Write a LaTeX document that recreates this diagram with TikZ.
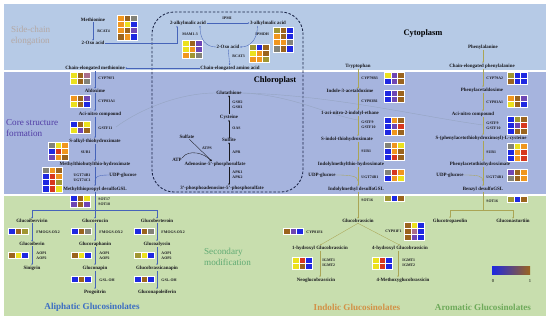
\documentclass[tikz,border=0pt]{standalone}
\usepackage{fontspec}
\setmainfont{Liberation Serif}
\usepackage{tikz}
\usetikzlibrary{arrows.meta,calc}
\definecolor{ink}{RGB}{25,25,30}
\definecolor{cytobg}{RGB}{182,202,230}
\definecolor{corebg}{RGB}{166,180,222}
\definecolor{greenbg}{RGB}{200,222,174}
\definecolor{chlline}{RGB}{25,35,70}
\definecolor{aliline}{RGB}{70,100,185}
\definecolor{indline}{RGB}{170,165,85}
\definecolor{gluline}{RGB}{150,165,195}
\definecolor{hb}{RGB}{30,40,225}
\definecolor{hp}{RGB}{110,70,180}
\definecolor{hy}{RGB}{235,225,30}
\definecolor{ho}{RGB}{240,150,30}
\definecolor{hr}{RGB}{215,55,30}
\definecolor{hn}{RGB}{155,100,30}
\definecolor{hk}{RGB}{160,150,50}
\definecolor{hg}{RGB}{130,130,120}
\definecolor{hm}{RGB}{170,110,140}
\definecolor{sidec}{RGB}{180,168,164}
\definecolor{corec}{RGB}{80,60,165}
\definecolor{secc}{RGB}{95,170,115}
\definecolor{alic}{RGB}{60,110,195}
\definecolor{indc}{RGB}{210,145,70}
\definecolor{aroc}{RGB}{110,170,90}
\newcommand{\hmap}[3]{%
  \foreach \hrow [count=\hj from 0] in {#3}{%
    \foreach \hcol [count=\hi from 0] in \hrow{%
      \fill[\hcol,draw=white,line width=0.3pt] (#1+\hi*6.7,#2+\hj*6.2) rectangle ++(6.7,6.2);}}}

\begin{document}
\begin{tikzpicture}[x=0.05cm,y=-0.05cm,
  cpd/.style={font=\fontsize{7}{8}\selectfont\bfseries,text=ink,inner sep=0.6pt},
  enz/.style={font=\fontsize{5.5}{6.5}\selectfont\bfseries,text=ink,inner sep=0.5pt,align=left},
  big/.style={font=\fontsize{13}{16}\selectfont,align=left,inner sep=0pt},
  grp/.style={font=\fontsize{13}{15}\selectfont\bfseries,inner sep=0pt},
  ali/.style={-{Stealth[length=2.4pt,width=2pt]},draw=aliline,line width=0.5pt},
  alip/.style={draw=aliline,line width=0.5pt},
  ind/.style={-{Stealth[length=2.4pt,width=2pt]},draw=indline,line width=0.5pt},
  indp/.style={draw=indline,line width=0.5pt},
  sul/.style={-{Stealth[length=2.6pt,width=2.2pt]},draw=ink,line width=0.5pt},
  glu/.style={draw=gluline,line width=0.6pt},
  chl/.style={draw=chlline,line width=1.2pt,dash pattern=on 3.5pt off 2.5pt,rounded corners=1.1cm}
]
\fill[white] (0,0) rectangle (550,322);
\fill[cytobg] (4,4) rectangle (546,70);
\fill[corebg] (4,72) rectangle (546,194);
\fill[greenbg] (4,196) rectangle (546,316);
\draw[chl] (152,12) rectangle (303,192);

\node[big,text=sidec,anchor=west] (side) at (11,36) {Side-chain\\elongation};
\node[big,text=corec,anchor=west] (core) at (6,128) {Core structure\\formation};
\node[big,text=secc,anchor=west] (secm) at (204,257) {Secondary\\modification};
\node[grp,font=\fontsize{12}{14}\selectfont\bfseries] (cyto) at (423,33) {Cytoplasm};
\node[grp,font=\fontsize{12}{14}\selectfont\bfseries] (chlo) at (275,80) {Chloroplast};

\node[cpd] (met) at (93,20) {Methionine};
\node[cpd] (oxoa) at (93,43) {2-Oxo acid};
\node[enz,anchor=west] (bcatf) at (97,31) {BCAT4};
\hmap{117}{15}{{ho,hn,hg},{ho,hy,hb},{ho,hn,hp},{hn,ho,hb}}
\node[cpd] (alkb) at (188,23) {2-alkylmalic acid};
\node[cpd] (alkc) at (268,23) {3-alkylmalic acid};
\node[enz] (ipmi) at (227,18) {IPMI};
\node[enz,anchor=west] (mam) at (182,34) {MAM1-3};
\hmap{182}{40}{{hy,hn,hp},{hy,ho,hp},{ho,hk,hg}}
\node[enz,anchor=west] (ipmdh) at (255,34) {IPMDH};
\hmap{273}{27}{{hk,hn,hb},{ho,hn,hb},{ho,ho,hg},{hg,hn,hb}}
\node[cpd] (oxob) at (228,47) {2-Oxo acid};
\node[enz,anchor=west] (bcatt) at (232,56) {BCAT3};
\hmap{249}{44}{{hk,hb,hn},{hy,ho,hn},{ho,ho,hk}}
\node[cpd] (ceaa) at (230,68) {Chain-elongated amino acid};
\node[cpd] (cemet) at (95,68) {Chain-elongated methionine};

\draw[ali] (met) -- (oxoa);
\draw[ali] (oxoa.east) -| ($(alkb.south)+(-11,0)$);
\draw[ali] (alkb) -- (alkc);
\draw[ali] ($(alkc.south west)+(8,0)$) .. controls +(0,14) and +(10,0) .. (oxob.east);
\draw[ali] (oxob.west) .. controls +(-10,0) and +(0,14) .. ($(alkb.south)+(12,0)$);
\draw[ali] (oxob) -- (ceaa);
\draw[ali] (ceaa) -- (cemet);

\coordinate (cA) at (95,0);
\node[cpd] (ald) at (95,91) {Aldoxime};
\node[cpd] (acia) at (100,114) {Aci-nitro compound};
\node[cpd] (salk) at (95,141) {S-alkyl-thiohydroximate};
\node[cpd] (mtbt) at (95,164) {Methylthiobutylthio-hydroximate};
\node[cpd] (mtds) at (95,189) {Methylthiopropyl desulfoGSL};
\node[cpd] (udpa) at (123,175) {UDP-glucose};
\node[enz,anchor=west] (cypfa) at (98,78) {CYP79F1};
\hmap{70}{72}{{hy,hn,hm},{hy,hn,hg}}
\node[enz,anchor=west] (cypaa) at (98,101) {CYP83A1};
\hmap{70}{95}{{ho,hn,hp},{hy,hn,hb}}
\node[enz,anchor=west] (gsta) at (98,128) {GSTF11};
\hmap{70}{121}{{hb,hn,hy},{hy,hp,hn}}
\node[enz,anchor=east] (sura) at (91,152) {SUR1};
\hmap{48}{142}{{hg,hy,ho},{hb,hr,ho},{hp,ho,hn}}
\node[enz,anchor=east] (ugta) at (91,178) {UGT74B1\\UGT74C1};
\hmap{42}{167}{{hg,ho,hn},{hb,hr,ho},{hb,hr,hk},{hb,hr,hy}}
\node[enz,anchor=west] (sota) at (98,202) {SOT17\\SOT18};
\hmap{70}{195}{{hb,hn,hy},{hp,hn,hp}}

\draw[ali] (cemet.south -| cA) -- (ald.north -| cA);
\draw[ali] (ald.south -| cA) -- (acia.north -| cA);
\draw[ali] (acia.south -| cA) -- (salk.north -| cA);
\draw[ali] (salk.south -| cA) -- (mtbt.north -| cA);
\draw[ali] (mtbt.south -| cA) -- (mtds.north -| cA);
\coordinate (jA) at (95,183);
\draw[alip] (udpa.west) .. controls +(-14,0) and +(0,-5) .. (jA);

\coordinate (brA) at (95,210);
\node[cpd] (gibv) at (32,221) {Glucoibervirin};
\node[cpd] (geru) at (95,221) {Glucoerucin};
\node[cpd] (gbte) at (157,221) {Glucoberteroin};
\node[cpd] (gibe) at (32,244) {Glucoiberin};
\node[cpd] (grap) at (95,244) {Glucoraphanin};
\node[cpd] (galy) at (157,244) {Glucoalyssin};
\node[cpd] (sini) at (32,268) {Sinigrin};
\node[cpd] (gnap) at (95,268) {Gluconapin};
\node[cpd] (gbna) at (157,268) {Glucobrassicanapin};
\node[cpd] (prog) at (95,292) {Progoitrin};
\node[cpd] (gnpo) at (157,292) {Gluconapoleiferin};
\node[enz,anchor=west] (fmoa) at (36,232) {FMOGS-OX2};
\node[enz,anchor=west] (fmob) at (99,232) {FMOGS-OX2};
\node[enz,anchor=west] (fmoc) at (161,232) {FMOGS-OX2};
\node[enz,anchor=west] (aopa) at (36,256) {AOP1\\AOP2};
\node[enz,anchor=west] (aopb) at (99,256) {AOP1\\AOP2};
\node[enz,anchor=west] (aopc) at (161,256) {AOP1\\AOP2};
\node[enz,anchor=west] (gslb) at (99,280) {GSL-OH};
\node[enz,anchor=west] (gslc) at (161,280) {GSL-OH};
\hmap{8}{228}{{hb,hn,hk}}
\hmap{71}{228}{{hb,hn,hg}}
\hmap{134}{228}{{hb,hn,hg}}
\hmap{8}{252}{{hn,hy,hb}}
\hmap{71}{252}{{hn,hy,hb}}
\hmap{134}{252}{{hk,hy,hb}}
\hmap{71}{276}{{hb,hn,hb}}
\hmap{134}{276}{{hb,hn,hb}}
\node[grp,text=alic] (alit) at (92,307) {Aliphatic Glucosinolates};

\draw[alip] (mtds.south) -- (brA);
\draw[ali] (brA) -| (gibv.north);
\draw[ali] (brA) -| (gbte.north);
\draw[ali] (brA) -- (geru.north);
\draw[ali] (gibv) -- (gibe);
\draw[ali] (gibe) -- (sini);
\draw[ali] (geru) -- (grap);
\draw[ali] (grap) -- (gnap);
\draw[ali] (gnap) -- (prog);
\draw[ali] (gbte) -- (galy);
\draw[ali] (galy) -- (gbna);
\draw[ali] (gbna) -- (gnpo);

\coordinate (cS) at (229,0);
\node[cpd] (glut) at (229,93) {Glutathione};
\node[enz,anchor=west] (gsh) at (232,105) {GSH2\\GSH1};
\node[cpd] (cys) at (229,117) {Cysteine};
\node[enz,anchor=west] (oas) at (232,128) {OAS};
\node[cpd] (slfi) at (229,140) {Sulfite};
\node[enz,anchor=west] (apr) at (232,152) {APR};
\node[cpd] (aps) at (215,164) {Adenosine-5'-phosphosulfate};
\node[enz,anchor=west] (apk) at (232,175) {APK1\\APK2};
\node[cpd] (paps) at (222,188) {3'-phosphoadenosine-5'-phosphosulfate};
\node[cpd] (slfa) at (187,137) {Sulfate};
\node[enz] (atps) at (207,148) {ATPS};
\node[cpd] (atp) at (177,160) {ATP};

\draw[sul] (aps.north -| cS) -- (slfi.south -| cS);
\draw[sul] (slfi) -- (cys);
\draw[sul] (cys) -- (glut);
\draw[sul] (aps.south -| cS) -- (paps.north -| cS);
\draw[sul] (slfa) -- ($(aps.north)+(-3,0)$);
\draw[sul] (atp.north east) .. controls +(6,-9) and +(-6,-8) .. ($(aps.north)+(-4,0)$);

\coordinate (gA) at (116,127);
\coordinate (gI) at (358,120);
\coordinate (gR) at (483,125);
\draw[glu] (glut.west) .. controls +(-40,0) and +(20,-15) .. (gA);
\draw[glu] (glut.east) .. controls +(50,2) and +(-30,-5) .. (gI);
\draw[glu] (glut.east) .. controls +(90,2) and +(-60,-8) .. (gR);

\coordinate (cI) at (358,0);
\node[cpd] (trp) at (358,66) {Tryptophan};
\node[cpd] (iaox) at (350,91) {Indole-3-acetaldoxime};
\node[cpd] (anie) at (350,113) {1-aci-nitro-2-indolyl-ethane};
\node[cpd] (sith) at (347,139) {S-indol-thiohydroximate};
\node[cpd] (imth) at (351,164) {Indolylmethylthio-hydroximate};
\node[cpd] (imds) at (356,189) {Indolylmethyl desulfoGSL};
\node[cpd] (udpb) at (322,175) {UDP-glucose};
\node[cpd] (gbra) at (358,221) {Glucobrassicin};
\node[enz,anchor=west] (cypbi) at (361,78) {CYP79B3};
\hmap{384}{72}{{hy,hp,hn},{hb,hp,hn}}
\node[enz,anchor=west] (cypbj) at (361,101) {CYP83B1};
\hmap{384}{90}{{hb,hp,hn},{hb,hp,hn}}
\node[enz,anchor=west] (gsti) at (361,125) {GSTF9\\GSTF10};
\hmap{384}{117}{{hb,ho,hn},{hb,hp,hr},{hb,ho,hn}}
\node[enz,anchor=west] (suri) at (361,151) {SUR1};
\hmap{384}{142}{{hg,ho,hy},{hb,ho,hn},{hb,hr,hn}}
\node[enz,anchor=west] (ugti) at (361,177) {UGT74B1};
\hmap{384}{169}{{hg,hr,ho},{hb,ho,hy}}
\node[enz,anchor=west] (soti) at (361,200) {SOT16};
\hmap{384}{195}{{hk,hb,hn}}

\draw[ind] (trp.south -| cI) -- (iaox.north -| cI);
\draw[ind] (iaox.south -| cI) -- (anie.north -| cI);
\draw[ind] (anie.south -| cI) -- (sith.north -| cI);
\draw[ind] (sith.south -| cI) -- (imth.north -| cI);
\draw[ind] (imth.south -| cI) -- (imds.north -| cI);
\draw[ind] (imds.south -| cI) -- (gbra.north -| cI);
\coordinate (jI) at (358,181);
\draw[indp] (udpb.east) .. controls +(14,0) and +(0,-5) .. (jI);

\node[cpd] (hgbr) at (320,248) {1-hydroxyl Glucobrassicin};
\node[cpd] (fgbr) at (400,248) {4-hydroxyl Glucobrassicin};
\node[cpd] (ngbr) at (316,280) {Neoglucobrassicin};
\node[cpd] (mgbr) at (403,280) {4-Methoxyglucobrassicin};
\node[enz,anchor=west] (cypfd) at (306,232) {CYP81F4};
\hmap{283}{228}{{hn,hp,hb}}
\node[enz,anchor=east] (cypfe) at (402,231) {CYP81F1};
\hmap{404}{222}{{hn,hy,hb},{hn,hm,hb},{hn,hp,hb}}
\node[enz,anchor=west] (igma) at (322,263) {IGMT1\\IGMT2};
\hmap{292}{257}{{hy,hr,hb},{hy,hn,hb}}
\node[enz,anchor=west] (igmb) at (402,263) {IGMT1\\IGMT2};
\hmap{372}{257}{{hy,hr,hb},{hy,hr,hb}}
\node[grp,text=indc] (indt) at (357,307) {Indolic Glucosinolates};

\draw[ind] (gbra.south) -- (hgbr.north);
\draw[ind] (gbra.south) -- (fgbr.north);
\draw[ind] (hgbr.south) -- (hgbr.south |- ngbr.north);
\draw[ind] ($(fgbr.south)+(-2,0)$) -- ($(fgbr.south |- mgbr.north)+(-2,0)$);

\coordinate (cR) at (483,0);
\node[cpd] (phe) at (483,47) {Phenylalanine};
\node[cpd] (cephe) at (482,66) {Chain-elongated phenylalanine};
\node[cpd] (paox) at (482,90) {Phenylacetaldoxime};
\node[cpd] (acib) at (473,114) {Aci-nitro compound};
\node[cpd] (spac) at (481,138) {S-(phenylacetothiohydroximoyl)-L-cysteine};
\node[cpd] (pth) at (480,164) {Phenylacetothiohydroximate};
\node[cpd] (bzds) at (483,189) {Benzyl desulfoGSL};
\node[cpd] (udpc) at (450,175) {UDP-glucose};
\node[enz,anchor=west] (cypra) at (486,78) {CYP79A2};
\hmap{507}{72}{{hk,hb,hb},{hn,hb,hb}}
\node[enz,anchor=west] (cyprb) at (486,102) {CYP83A1};
\hmap{507}{95}{{ho,hn,hp},{hy,hn,hb}}
\node[enz,anchor=west] (gstr) at (486,126) {GSTF9\\GSTF10};
\hmap{507}{116}{{hb,hk,hn},{hb,hp,hr},{hb,hn,hn}}
\node[enz,anchor=west] (surr) at (486,152) {SUR1};
\hmap{507}{143}{{hg,hy,ho},{hb,ho,hr},{hb,ho,hr}}
\node[enz,anchor=west] (ugtr) at (486,177) {UGT74B1};
\hmap{507}{169}{{hp,hn,ho},{hg,hn,ho}}
\node[enz,anchor=west] (sotr) at (486,201) {SOT16};
\hmap{507}{196}{{hk,hb,hn}}

\draw[ind] (phe.south -| cR) -- (cephe.north -| cR);
\draw[ind] (cephe.south -| cR) -- (paox.north -| cR);
\draw[ind] (paox.south -| cR) -- (acib.north -| cR);
\draw[ind] (acib.south -| cR) -- (spac.north -| cR);
\draw[ind] (spac.south -| cR) -- (pth.north -| cR);
\draw[ind] (pth.south -| cR) -- (bzds.north -| cR);
\coordinate (jR) at (483,181);
\draw[indp] (udpc.east) .. controls +(14,0) and +(0,-5) .. (jR);

\coordinate (brR) at (483,210);
\node[cpd] (gtro) at (450,221) {Glucotropaeolin};
\node[cpd] (gnas) at (513,221) {Gluconasturtiin};
\draw[indp] (bzds.south) -- (brR);
\draw[ind] (brR) -| (gtro.north);
\draw[ind] (brR) -| (gnas.north);
\node[grp,text=aroc] (arot) at (483,307) {Aromatic Glucosinolates};

\shade[left color=hb,middle color=hy,right color=hn] (492,266) rectangle (530,274);
\node[font=\fontsize{6.5}{7}\selectfont] (lz) at (493,281) {0};
\node[font=\fontsize{6.5}{7}\selectfont] (lo) at (530,281) {1};
\end{tikzpicture}
\end{document}
